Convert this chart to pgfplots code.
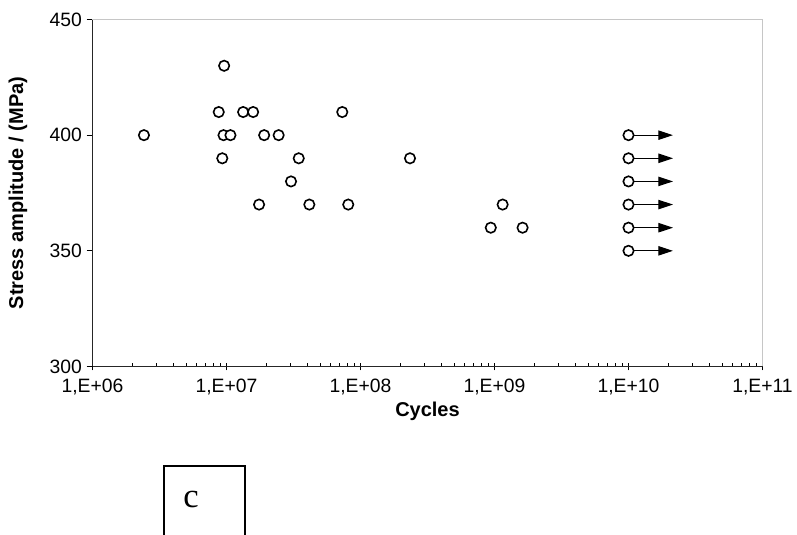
\documentclass[border=0pt]{standalone}
\usepackage{fontspec}
\setmainfont{Liberation Sans}
\newfontfamily\seriffont{Liberation Serif}
\usepackage{pgfplots}
\pgfplotsset{compat=1.18}
\usetikzlibrary{arrows.meta}
\newlength\pxu
\setlength\pxu{0.75pt}

\begin{document}
\begin{tikzpicture}
\begin{axis}[
    name=a, at={(0,0)}, anchor=south west,
    scale only axis, width=670\pxu, height=347\pxu,
    xmode=log, xmin=1e6, xmax=1e11,
    ymin=300, ymax=450,
    xtick={1e6,1e7,1e8,1e9,1e10,1e11},
    xticklabels={{1,E+06},{1,E+07},{1,E+08},{1,E+09},{1,E+10},{1,E+11}},
    ytick={300,350,400,450},
    axis x line*=bottom, axis y line*=left,
    axis line style={black!85, line width=1pt},
    tick align=outside,
    major tick length=6\pxu, minor tick length=3\pxu,
    tick style={black, line width=0.75pt},
    every minor x tick/.append style={yshift=3\pxu},
    every major x tick/.append style={yshift=2\pxu},
    ticklabel style={font=\fontsize{14.5}{16}\selectfont},
    yticklabel style={xshift=0\pxu},
    xticklabel style={yshift=-2\pxu},
    /pgf/number format/assume math mode=true,
]
% run-outs
\addplot[black, line width=0.9pt, -{Triangle[length=11pt,width=7pt]}] coordinates {(1e10,400) (2.15e10,400)};
\addplot[black, line width=0.9pt, -{Triangle[length=11pt,width=7pt]}] coordinates {(1e10,390) (2.15e10,390)};
\addplot[black, line width=0.9pt, -{Triangle[length=11pt,width=7pt]}] coordinates {(1e10,380) (2.15e10,380)};
\addplot[black, line width=0.9pt, -{Triangle[length=11pt,width=7pt]}] coordinates {(1e10,370) (2.15e10,370)};
\addplot[black, line width=0.9pt, -{Triangle[length=11pt,width=7pt]}] coordinates {(1e10,360) (2.15e10,360)};
\addplot[black, line width=0.9pt, -{Triangle[length=11pt,width=7pt]}] coordinates {(1e10,350) (2.15e10,350)};

\addplot[only marks, mark=*, mark size=3.9pt,
    mark options={fill=white, draw=black, line width=1.2pt}] coordinates {
    (2.42e6,400)
    (9.6e6,430)
    (8.75e6,410) (1.33e7,410) (1.58e7,410) (7.31e7,410)
    (9.5e6,400) (1.07e7,400) (1.91e7,400) (2.45e7,400)
    (9.3e6,390) (3.46e7,390) (2.34e8,390)
    (3.03e7,380)
    (1.75e7,370) (4.15e7,370) (8.1e7,370) (1.15e9,370)
    (9.38e8,360) (1.62e9,360)
    (1e10,400) (1e10,390) (1e10,380) (1e10,370) (1e10,360) (1e10,350)
};
\end{axis}
\draw[gray!45, line width=1.3pt] (a.north west) -- (a.north east) -- (a.south east);
\node[rotate=90, font=\bfseries\fontsize{15}{17}\selectfont] at ([xshift=-74.5\pxu]a.west) {Stress amplitude / (MPa)};
\node[font=\bfseries\fontsize{15}{17}\selectfont] at ([yshift=-45.3\pxu]a.south) {Cycles};
\draw[line width=1.5pt] ([shift={(71.5\pxu,-175\pxu)}]a.south west) -- ++(0,75.7\pxu) -- ++(81\pxu,0) -- ++(0,-75.7\pxu);
\node[font=\seriffont\fontsize{26}{28}\selectfont] at ([shift={(98.5\pxu,-133.3\pxu)}]a.south west) {c};
\pgfresetboundingbox
\path[use as bounding box] ([shift={(-92.5\pxu,-168.3\pxu)}]a.south west) rectangle ([shift={(704.5\pxu,19.5\pxu)}]a.north west);
\end{tikzpicture}
\end{document}
